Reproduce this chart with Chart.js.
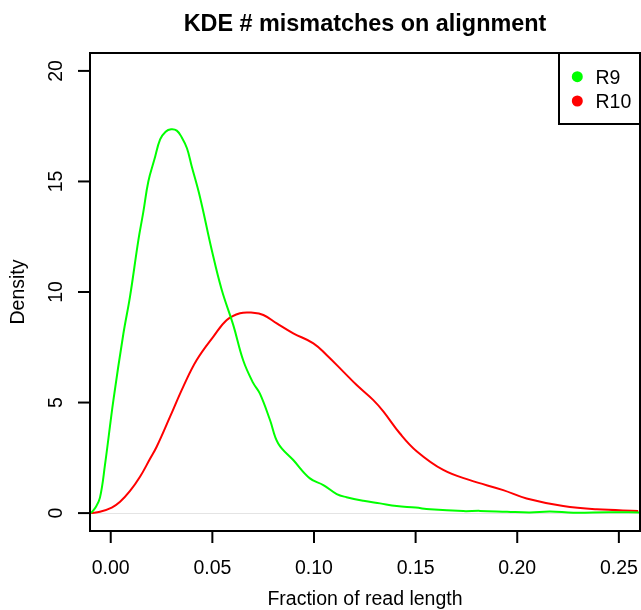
<!DOCTYPE html>
<html>
<head>
<meta charset="utf-8">
<script src="https://cdn.jsdelivr.net/npm/chart.js@4/dist/chart.umd.min.js"></script>
<style>
  html, body { margin: 0; padding: 0; background: #fff; }
  canvas { display: block; }
</style>
</head>
<body>
<canvas id="kde" width="641" height="610"></canvas>
<script>
// R9 density curve (fraction of read length, density)
const r9X = [-0.0097, -0.0075, -0.0053, -0.0028, 0.0013, 0.0062, 0.0095, 0.0136, 0.0160, 0.0185,
             0.0215, 0.0243, 0.0270, 0.0297, 0.0325, 0.0349, 0.0375, 0.0398, 0.0439, 0.0497,
             0.0546, 0.0603, 0.0652, 0.0700, 0.0734, 0.0784, 0.0824, 0.0898, 0.0980, 0.1046,
             0.1112, 0.1160, 0.1243, 0.1325, 0.1407, 0.1500, 0.1571, 0.1734, 0.1817, 0.1950,
             0.2062, 0.2161, 0.2276, 0.2450, 0.2604];
const r9Y = [0, 0.25, 0.7, 2.2, 5.1, 8.1, 9.8, 12.35, 13.6, 15.0,
             16.0, 16.9, 17.25, 17.36, 17.3, 17.0, 16.5, 15.7, 14.3, 11.9,
             10.1, 8.5, 6.9, 5.9, 5.4, 4.2, 3.15, 2.4, 1.57, 1.27,
             0.86, 0.72, 0.56, 0.44, 0.32, 0.25, 0.17, 0.09, 0.10, 0.06,
             0.03, 0.07, 0.02, 0.04, 0.03];

// R10 density curve
const r10X = [-0.0097, -0.0053, 0.0005, 0.0046, 0.0095, 0.0144, 0.0190, 0.0226, 0.0292, 0.0357,
              0.0423, 0.0505, 0.0571, 0.0636, 0.0700, 0.0751, 0.0817, 0.0898, 0.0997, 0.1062,
              0.1144, 0.1210, 0.1292, 0.1341, 0.1423, 0.1505, 0.1636, 0.1767, 0.1931, 0.2046,
              0.2226, 0.2391, 0.2595];
const r10Y = [0, 0.06, 0.25, 0.51, 1.0, 1.64, 2.4, 3.0, 4.36, 5.72,
              6.92, 7.98, 8.73, 9.04, 9.06, 8.96, 8.58, 8.13, 7.68, 7.15,
              6.4, 5.79, 5.11, 4.6, 3.6, 2.8, 1.95, 1.49, 1.04, 0.66,
              0.32, 0.17, 0.1];

const seriesNames = ['R9', 'R10'];
const seriesColors = ['#00ff00', '#ff0000'];

const xTicks = [0, 0.05, 0.10, 0.15, 0.20, 0.25];
const xTickLabels = ['0.00', '0.05', '0.10', '0.15', '0.20', '0.25'];
const yTicks = [0, 5, 10, 15, 20];
const yTickLabels = ['0', '5', '10', '15', '20'];

const FONT = '"Liberation Sans", Arial, Helvetica, sans-serif';

function toPoints(xs, ys) {
    return xs.map((x, i) => ({ x: x, y: ys[i] }));
}

// R-style frame, ticks, labels, legend
const rFrame = {
    id: 'rFrame',
    beforeDatasetsDraw(chart) {
        const { ctx, chartArea: a, scales: { x, y } } = chart;
        ctx.save();
        ctx.strokeStyle = '#e4e4e4';
        ctx.lineWidth = 1;
        const y0 = Math.round(y.getPixelForValue(0)) + 0.5;
        ctx.beginPath();
        ctx.moveTo(a.left, y0);
        ctx.lineTo(a.right, y0);
        ctx.stroke();
        ctx.restore();
    },
    afterDraw(chart) {
        const { ctx, chartArea: a, scales: { x, y } } = chart;
        ctx.save();
        ctx.strokeStyle = '#000';
        ctx.fillStyle = '#000';
        ctx.lineWidth = 2;
        ctx.strokeRect(a.left, a.top, a.right - a.left, a.bottom - a.top);

        // x axis
        ctx.font = '19.5px ' + FONT;
        ctx.textAlign = 'center';
        ctx.textBaseline = 'alphabetic';
        xTicks.forEach((v, i) => {
            const px = x.getPixelForValue(v);
            ctx.beginPath();
            ctx.moveTo(px, a.bottom);
            ctx.lineTo(px, a.bottom + 12);
            ctx.stroke();
            ctx.fillText(xTickLabels[i], px, a.bottom + 43);
        });

        // y axis
        yTicks.forEach((v, i) => {
            const py = y.getPixelForValue(v);
            ctx.beginPath();
            ctx.moveTo(a.left, py);
            ctx.lineTo(a.left - 12, py);
            ctx.stroke();
            ctx.save();
            ctx.translate(a.left - 28, py);
            ctx.rotate(-Math.PI / 2);
            ctx.fillText(yTickLabels[i], 0, 0);
            ctx.restore();
        });

        // axis titles
        const cx = (a.left + a.right) / 2;
        const cy = (a.top + a.bottom) / 2;
        ctx.fillText('Fraction of read length', cx, 605);
        ctx.save();
        ctx.translate(24, cy);
        ctx.rotate(-Math.PI / 2);
        ctx.fillText('Density', 0, 0);
        ctx.restore();

        // main title
        ctx.font = 'bold 23.4px ' + FONT;
        ctx.fillText('KDE # mismatches on alignment', cx, 31);

        // legend
        const lx = 559, ly = a.top, lh = 71;
        ctx.fillStyle = '#fff';
        ctx.fillRect(lx, ly, a.right - lx, lh);
        ctx.strokeRect(lx, ly, a.right - lx, lh);
        ctx.font = '19.5px ' + FONT;
        ctx.textAlign = 'left';
        seriesNames.forEach((name, i) => {
            const rowY = ly + 23.7 + i * 24.3;
            ctx.fillStyle = seriesColors[i];
            ctx.beginPath();
            ctx.arc(577.3, rowY, 5.5, 0, Math.PI * 2);
            ctx.fill();
            ctx.fillStyle = '#000';
            ctx.fillText(name, 595.5, rowY + 7.3);
        });
        ctx.restore();
    }
};

new Chart(document.getElementById('kde'), {
    type: 'scatter',
    data: {
        datasets: [
            {
                label: seriesNames[0],
                data: toPoints(r9X, r9Y),
                showLine: true,
                borderColor: seriesColors[0],
                borderWidth: 2,
                pointRadius: 0,
                tension: 0.4
            },
            {
                label: seriesNames[1],
                data: toPoints(r10X, r10Y),
                showLine: true,
                borderColor: seriesColors[1],
                borderWidth: 2,
                pointRadius: 0,
                tension: 0.4
            }
        ]
    },
    options: {
        responsive: false,
        animation: false,
        layout: {
            padding: { left: 90, top: 53, right: 1, bottom: 79 }
        },
        plugins: {
            legend: { display: false },
            title: { display: false },
            tooltip: { enabled: false }
        },
        scales: {
            x: { type: 'linear', min: -0.0102, max: 0.2604, display: false },
            y: { type: 'linear', min: -0.81, max: 20.81, display: false }
        }
    },
    plugins: [rFrame]
});
</script>
</body>
</html>
